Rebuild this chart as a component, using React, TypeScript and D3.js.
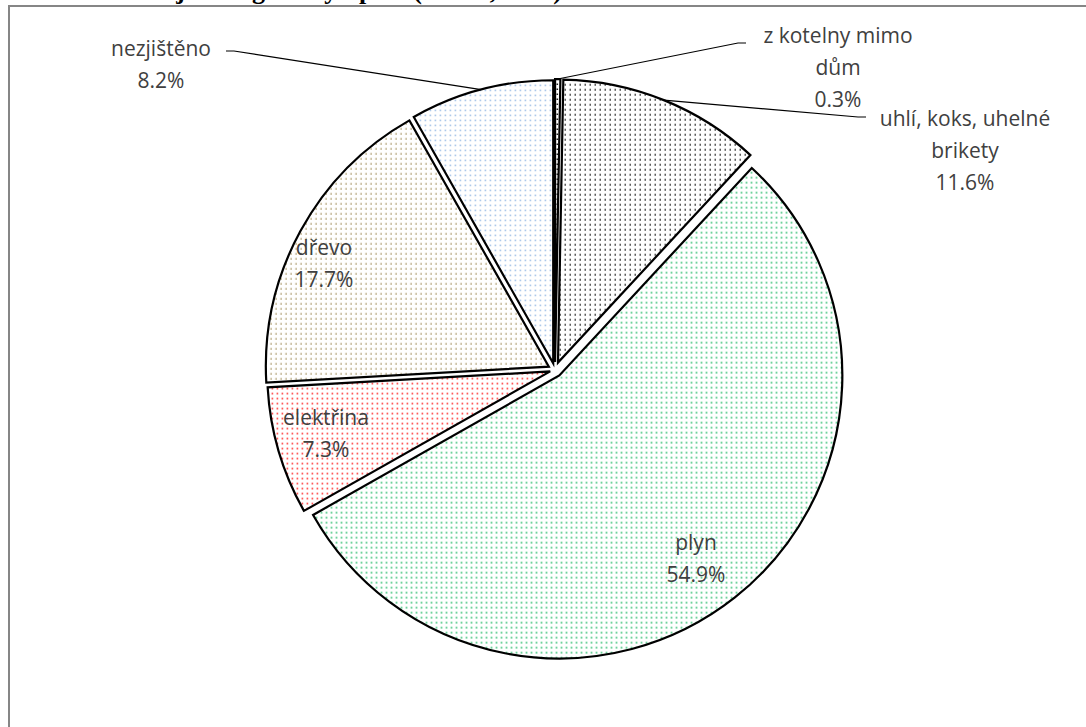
import * as d3 from "d3";

const categories = [
  "z kotelny mimo dům",
  "uhlí, koks, uhelné brikety",
  "plyn",
  "elektřina",
  "dřevo",
  "nezjištěno",
];
const shares = [0.3, 11.6, 54.9, 7.3, 17.7, 8.2];
const labelLines = [
  ["z kotelny mimo", "dům"],
  ["uhlí, koks, uhelné", "brikety"],
  ["plyn"],
  ["elektřina"],
  ["dřevo"],
  ["nezjištěno"],
];
const dotColors = ["#000000", "#000000", "#00b050", "#ff0000", "#a08c58", "#8db4e2"];

const W = 1086;
const H = 727;
const cx = 555;
const cy = 370;
const r = 283;
const explode = [8, 8, 7, 5, 7, 7];

// label placement (centre x, first baseline) and leader start
const labelPos: { x: number; y: number; leader: [number, number] | null }[] = [
  { x: 838, y: 43, leader: [746, 43] },
  { x: 965, y: 126, leader: [866, 117] },
  { x: 696, y: 550, leader: null },
  { x: 326, y: 425, leader: null },
  { x: 324, y: 255, leader: null },
  { x: 161, y: 56, leader: [226, 51] },
];

export default function App() {
  const pie = d3
    .pie<number>()
    .sort(null)
    .value((d) => d);
  const arcs = pie(shares);
  const arc = d3.arc<d3.PieArcDatum<number>>().innerRadius(0).outerRadius(r);
  const fmt = d3.format(".1f");

  return (
    <svg
      width={W}
      height={H}
      style={{ position: "fixed", left: 0, top: 0, background: "#fff" }}
      fontFamily="'Open Sans', Lato, sans-serif"
    >
      <defs>
        {dotColors.map((c, i) => (
          <pattern
            key={i}
            id={`dots${i}`}
            width={5}
            height={5}
            patternUnits="userSpaceOnUse"
          >
            <rect width={5} height={5} fill="#fff" />
            <rect x={1.5} y={1.5} width={1.5} height={1.5} fill={c} opacity={0.9} />
          </pattern>
        ))}
      </defs>

      <text
        x={562}
        y={-1}
        textAnchor="end"
        fontFamily="'Liberation Serif', serif"
        fontWeight="bold"
        fontSize={26}
        fill="#000"
      >
        Obydlené domy podle hlavního zdroje energie k vytápění (SLDB, 2011)
      </text>

      <rect x={9} y={6} width={1200} height={900} fill="#fff" stroke="#868686" strokeWidth={2} />

      {arcs.map((a, i) => {
        const mid = (a.startAngle + a.endAngle) / 2;
        const dx = Math.sin(mid) * explode[i];
        const dy = -Math.cos(mid) * explode[i];
        return (
          <path
            key={categories[i]}
            d={arc(a) || ""}
            transform={`translate(${cx + dx},${cy + dy})`}
            fill={`url(#dots${i})`}
            stroke="#000"
            strokeWidth={2.2}
            strokeLinejoin="miter"
          />
        );
      })}

      {arcs.map((a, i) => {
        const p = labelPos[i];
        const lines = [...labelLines[i], `${fmt(shares[i])}%`];
        const mid = (a.startAngle + a.endAngle) / 2;
        const ex = cx + Math.sin(mid) * (r + explode[i]);
        const ey = cy - Math.cos(mid) * (r + explode[i]);
        const lead = p.leader;
        return (
          <g key={`lab${i}`}>
            {lead && (
              <polyline
                points={`${lead[0]},${lead[1]} ${lead[0] + (lead[0] < ex ? 8 : -8)},${lead[1]} ${ex},${ey}`}
                fill="none"
                stroke="#000"
                strokeWidth={1.2}
              />
            )}
            <text x={p.x} y={p.y} textAnchor="middle" fontSize={21} fill="#404040">
              {lines.map((t, k) => (
                <tspan key={k} x={p.x} dy={k === 0 ? 0 : 32}>
                  {t}
                </tspan>
              ))}
            </text>
          </g>
        );
      })}
    </svg>
  );
}
